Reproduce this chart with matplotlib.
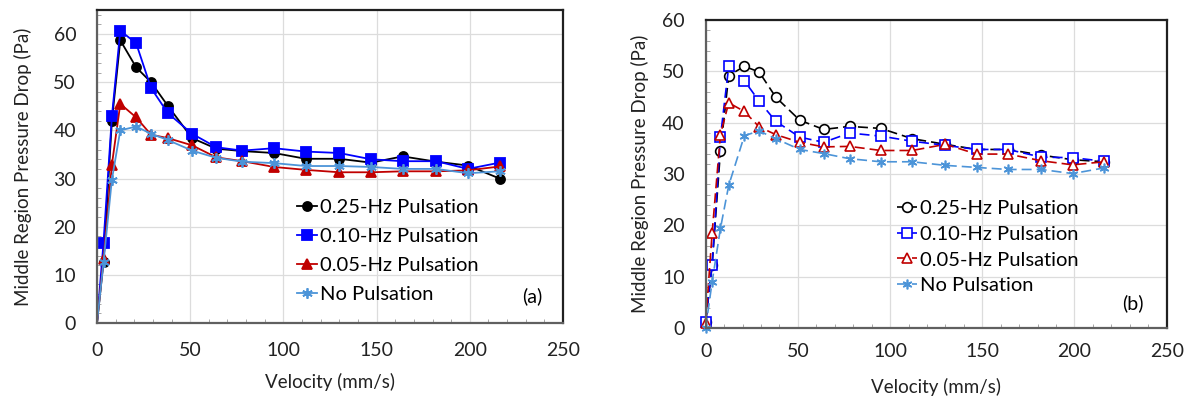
import matplotlib
matplotlib.use("Agg")
import matplotlib.pyplot as plt
from matplotlib.ticker import MultipleLocator

plt.rcParams['font.family'] = ['Lato', 'DejaVu Sans']

# velocity (mm/s)
velocity = [0, 3.5, 8, 12.5, 21, 29, 38, 51, 64, 78, 95, 112, 130, 147, 164, 182, 199, 216]

# panel (a) pressure drop (Pa)
a_025 = [0, 12.7, 42, 58.7, 53.1, 50, 45.1, 38.4, 36.2, 35.7, 35.3, 34.1, 34.1, 33.3, 34.6, 33.5, 32.7, 30]
a_010 = [0, 16.7, 42.9, 60.7, 58.1, 48.8, 43.6, 39.3, 36.5, 35.8, 36.3, 35.6, 35.3, 34, 33.6, 33.6, 32, 33.3]
a_005 = [0, 13.2, 32.9, 45.5, 42.7, 39.1, 38.4, 36.9, 34.4, 33.6, 32.4, 31.8, 31.3, 31.3, 31.5, 31.5, 31.7, 32.5]
a_none = [0, 12.6, 29.8, 40, 40.8, 39.3, 38, 35.8, 34.3, 33.5, 33.2, 32.6, 32.6, 32.4, 32, 32, 31.1, 31.5]

# panel (b) pressure drop (Pa)
b_025 = [1.2, 12.3, 34.5, 49.2, 51, 49.9, 45, 40.5, 38.7, 39.3, 38.9, 36.9, 35.8, 34.8, 34.8, 33.7, 32.8, 32.4]
b_010 = [1.2, 12.3, 37.2, 51, 48.2, 44.2, 40.3, 37.2, 36.2, 38, 37.4, 36.4, 35.6, 34.8, 34.8, 33.3, 33.2, 32.5]
b_005 = [1.0, 18.5, 37.7, 43.9, 42.2, 39.2, 37.7, 36.2, 35.3, 35.4, 34.6, 34.6, 35.8, 33.9, 33.9, 32.6, 31.8, 32.4]
b_none = [0, 9, 19.4, 27.8, 37.5, 38.4, 36.9, 34.8, 34, 33, 32.4, 32.4, 31.7, 31.3, 30.9, 30.9, 30.1, 31.2]

labels = ['0.25-Hz Pulsation', '0.10-Hz Pulsation', '0.05-Hz Pulsation', 'No Pulsation']
colors = ['black', '#0000FF', '#C00000', '#4C94D8']
markers = ['o', 's', '^', (6, 2, 0)]

fig = plt.figure(figsize=(11.9, 4.03), dpi=100)
ax_a = fig.add_axes([0.0815, 0.1985, 0.3916, 0.7767])
ax_b = fig.add_axes([0.593, 0.186, 0.3874, 0.764])


def style_axes(ax, ymax, xpad, ylab_x, xlab_y):
    ax.set_xlim(0, 250)
    ax.set_ylim(0, ymax)
    ax.xaxis.set_major_locator(MultipleLocator(50))
    ax.xaxis.set_minor_locator(MultipleLocator(10))
    ax.yaxis.set_major_locator(MultipleLocator(10))
    ax.yaxis.set_minor_locator(MultipleLocator(2))
    ax.grid(True, which='major', color='#dcdcdc', linewidth=0.9)
    ax.set_axisbelow(True)
    ax.tick_params(which='major', length=0, labelsize=14, colors='#222222')
    ax.tick_params(axis='x', which='major', pad=xpad)
    ax.tick_params(axis='y', which='major', pad=15)
    ax.tick_params(which='minor', direction='in', length=3, color='#999999')
    for s in ['top', 'right']:
        ax.spines[s].set_color('#202020')
        ax.spines[s].set_linewidth(1.6)
    for s in ['left', 'bottom']:
        ax.spines[s].set_color('#606060')
        ax.spines[s].set_linewidth(1.6)
    ax.set_xlabel('Velocity (mm/s)', fontsize=13.5, color='#222222', va='top')
    ax.set_ylabel('Middle Region Pressure Drop (Pa)', fontsize=13.5, color='#222222')
    ax.xaxis.set_label_coords(0.5, xlab_y)
    ax.yaxis.set_label_coords(ylab_x, 0.5)


# (a) solid lines, filled markers
series_a = [a_025, a_010, a_005, a_none]
sizes_a = [6.5, 6.5, 6.5, 7.5]
for y, lab, c, m, ms in zip(series_a, labels, colors, markers, sizes_a):
    ax_a.plot(velocity, y, color=c, marker=m, markersize=ms, linewidth=1.3,
              markerfacecolor=c, markeredgecolor=c, markeredgewidth=1.3,
              markevery=slice(1, None), label=lab)
style_axes(ax_a, 65, 14, -0.139, -0.16)
ax_a.legend(loc='upper left', bbox_to_anchor=(0.429, 0.395), frameon=False, fontsize=14.5,
            handlelength=1.0, handletextpad=0.15, labelspacing=0.58, borderpad=0, borderaxespad=0)
ax_a.text(0.933, 0.086, '(a)', transform=ax_a.transAxes, fontsize=14, ha='center', va='center')

# (b) dashed lines, open markers
series_b = [b_025, b_010, b_005, b_none]
sizes_b = [7, 7, 7, 7]
for y, lab, c, m, ms in zip(series_b, labels, colors, markers, sizes_b):
    ax_b.plot(velocity, y, color=c, marker=m, markersize=ms, linewidth=1.2,
              linestyle=(0, (6, 3)), markerfacecolor='white', markeredgecolor=c,
              markeredgewidth=1.2, label=lab, clip_on=False)
style_axes(ax_b, 60, 11, -0.124, -0.162)
ax_b.legend(loc='upper left', bbox_to_anchor=(0.414, 0.4175), frameon=False, fontsize=14.5,
            handlelength=1.0, handletextpad=0.15, labelspacing=0.44, borderpad=0, borderaxespad=0)
ax_b.text(0.926, 0.081, '(b)', transform=ax_b.transAxes, fontsize=14, ha='center', va='center')

plt.savefig('out.png', dpi=100)
